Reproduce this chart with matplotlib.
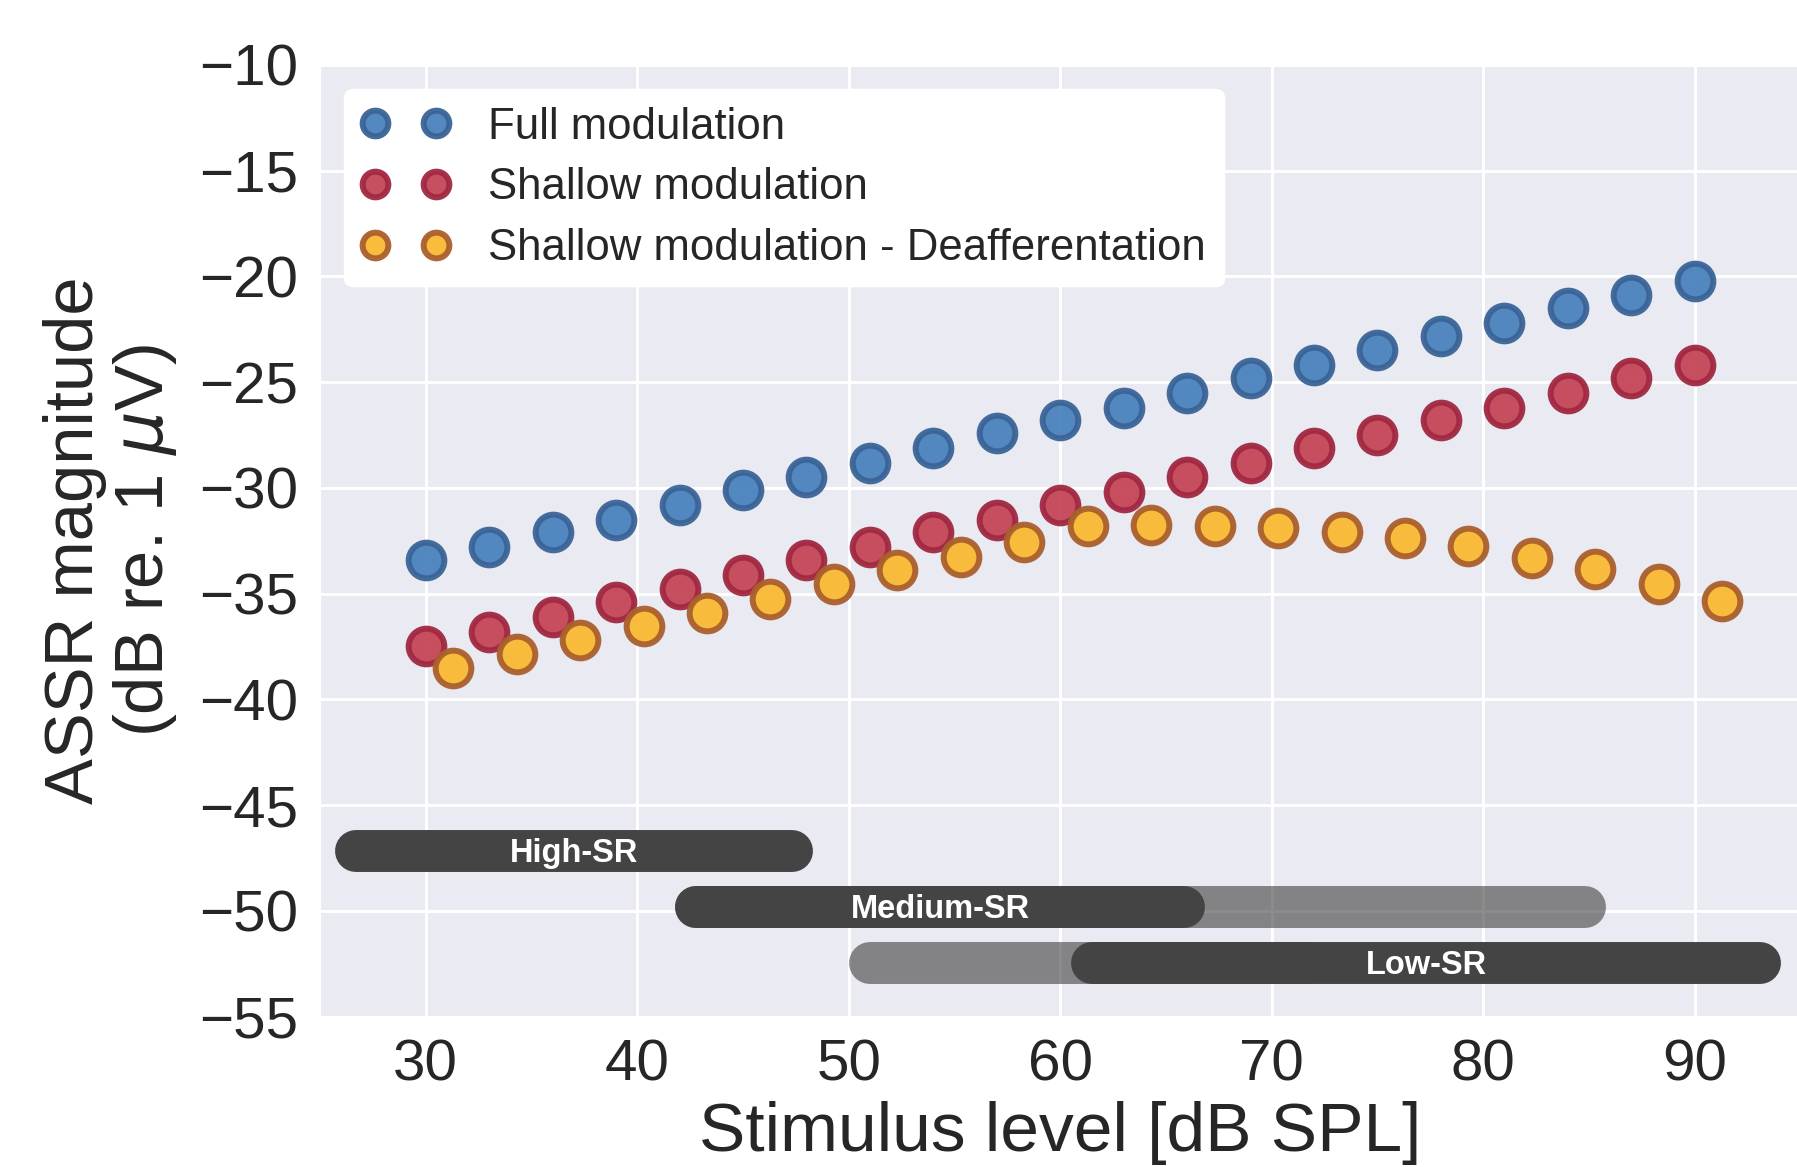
import numpy as np
import matplotlib
matplotlib.use("Agg")
import matplotlib.pyplot as plt
import seaborn as sns

# stimulus levels (dB SPL)
levels = np.arange(30, 91, 3)
levels_deaff = levels + 1.3

# ASSR magnitudes (dB re. 1 uV)
full_mod = [-33.4, -32.8, -32.1, -31.5, -30.8, -30.1, -29.5, -28.8, -28.1, -27.4, -26.8,
            -26.2, -25.5, -24.8, -24.2, -23.5, -22.8, -22.2, -21.5, -20.9, -20.2]
shallow_mod = [-37.5, -36.8, -36.1, -35.4, -34.8, -34.1, -33.4, -32.8, -32.1, -31.5, -30.8,
               -30.2, -29.5, -28.8, -28.1, -27.5, -26.8, -26.2, -25.5, -24.8, -24.2]
shallow_deaff = [-38.5, -37.85, -37.2, -36.55, -35.9, -35.25, -34.55, -33.9, -33.25, -32.55, -31.8,
                 -31.75, -31.8, -31.9, -32.1, -32.35, -32.75, -33.3, -33.85, -34.55, -35.35]

# fibre type ranges: label, y, dark span, light span
fibre_names = ["High-SR", "Medium-SR", "Low-SR"]
fibre_y = [-47.15, -49.8, -52.45]
fibre_dark = [(26.7, 47.3), (42.8, 65.85), (61.5, 93.1)]
fibre_light = [None, (42.8, 84.8), (51.0, 71.6)]

sns.set_style("darkgrid")
plt.rcParams["font.family"] = ["Liberation Sans", "DejaVu Sans"]
plt.rcParams["axes.facecolor"] = "#EAEAF2"
plt.rcParams["grid.linewidth"] = 2.1

fig = plt.figure(figsize=(17.97, 11.67), dpi=100)
ax = fig.add_axes([320 / 1797, 1 - 1016.5 / 1167, 1480.5 / 1797, 951.5 / 1167])

ms, mew = 25.7, 4.3
ax.plot(levels, full_mod, "o", ms=ms, mew=mew, mfc="#4a82be", mec="#3a6496",
        alpha=0.95, label="Full modulation", zorder=3)
ax.plot(levels, shallow_mod, "o", ms=ms, mew=mew, mfc="#c44657", mec="#a02841",
        alpha=0.95, label="Shallow modulation", zorder=3)
ax.plot(levels_deaff, shallow_deaff, "o", ms=ms, mew=mew, mfc="#fab932", mec="#aa5f2d",
        alpha=0.95, label="Shallow modulation - Deafferentation", zorder=3)

bar_lw = 30.2
for name, y, dark, light in zip(fibre_names, fibre_y, fibre_dark, fibre_light):
    if light is not None:
        ax.plot(light, [y, y], color="#444444", alpha=0.62, lw=bar_lw,
                solid_capstyle="round", zorder=2)
    ax.plot(dark, [y, y], color="#444444", lw=bar_lw, solid_capstyle="round", zorder=2)
    ax.text(np.mean(dark), y - 0.12, name, color="white", fontsize=23.5, fontweight="bold",
            ha="center", va="center", zorder=4)

ax.set_xlim(25, 95)
ax.set_ylim(-55, -10)
ax.set_xticks([30, 40, 50, 60, 70, 80, 90])
ax.set_yticks(np.arange(-55, -9, 5))
ax.tick_params(labelsize=42, length=2, width=1, color="#262626", pad=14)
ax.set_xlabel("Stimulus level [dB SPL]", fontsize=50, labelpad=6)
ax.set_ylabel("ASSR magnitude\n(dB re. 1 $\\mu$V)", fontsize=49.5, labelpad=14,
              linespacing=1.08)

leg = ax.legend(loc="upper left", numpoints=2, markerscale=0.72, fontsize=31.5,
                frameon=True, facecolor="white", edgecolor="white", framealpha=1,
                borderaxespad=0.55, handletextpad=0.9, labelspacing=0.45)

fig.savefig("out.png", dpi=100)
